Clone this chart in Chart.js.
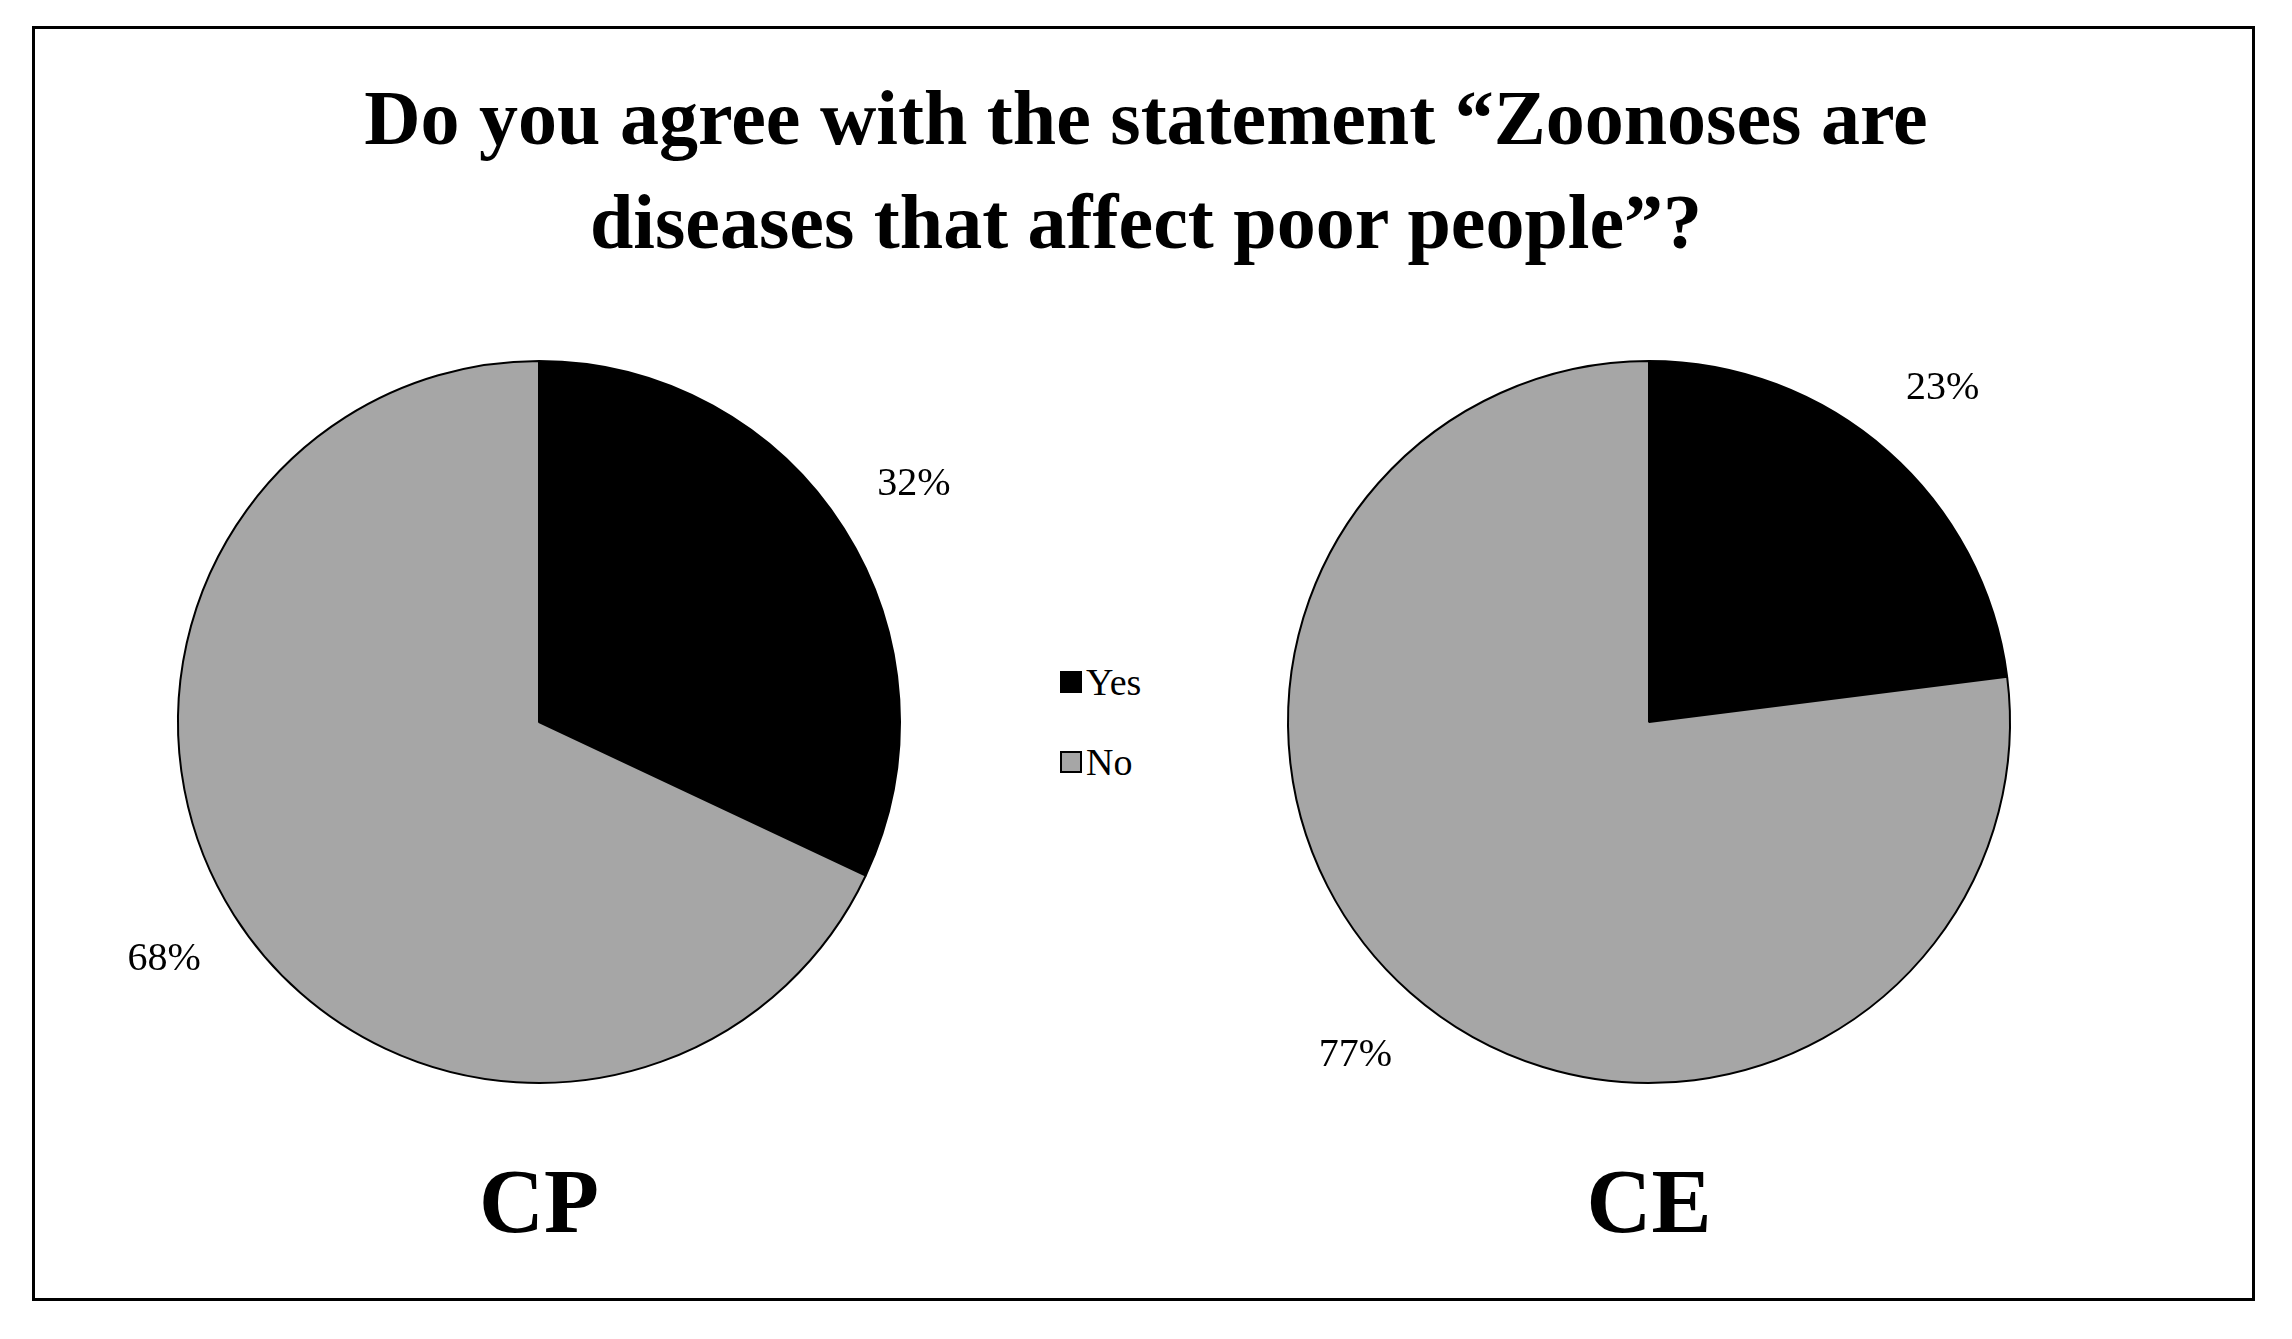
<!DOCTYPE html>
<html>
<head>
<meta charset="utf-8">
<script src="https://cdn.jsdelivr.net/npm/chart.js@4"></script>
<style>
  body { margin: 0; background: #fff; font-family: "Liberation Serif", serif; }
  #frame { position: absolute; left: 32px; top: 26px; width: 2217px; height: 1269px; border: 3px solid #000; }
  .title { position: absolute; left: 0; width: 2292px; text-align: center; font-weight: bold; font-size: 78px; line-height: 104px; top: 66px; }
  .group { position: absolute; font-weight: bold; font-size: 90px; top: 1150px; width: 400px; text-align: center; }
  canvas { position: absolute; }
  .leg { position: absolute; font-size: 38px; display: flex; align-items: center; }
  .leg span { display: inline-block; width: 22px; height: 22px; border: 2px solid #000; margin-right: 4px; box-sizing: border-box; }
</style>
</head>
<body>
<div id="frame"></div>
<div class="title">Do you agree with the statement “Zoonoses are<br>diseases that affect poor people”?</div>
<canvas id="cp" width="1000" height="1000" style="left:39px;top:222px"></canvas>
<canvas id="ce" width="1000" height="1000" style="left:1149px;top:222px"></canvas>
<div class="leg" style="left:1060px;top:660px"><span style="background:#000"></span>Yes</div>
<div class="leg" style="left:1060px;top:740px"><span style="background:#a6a6a6"></span>No</div>
<div class="group" style="left:339px">CP</div>
<div class="group" style="left:1449px">CE</div>
<script>
const categories = ['Yes', 'No'];
const cpValues = [32, 68];
const ceValues = [23, 77];
const colors = ['#000000', '#a6a6a6'];

const outsideLabels = {
    id: 'outsideLabels',
    afterDatasetsDraw(chart) {
        const ctx = chart.ctx;
        const meta = chart.getDatasetMeta(0);
        ctx.save();
        ctx.font = '40px "Liberation Serif"';
        ctx.fillStyle = '#000';
        ctx.textAlign = 'center';
        ctx.textBaseline = 'middle';
        meta.data.forEach((arc, i) => {
            const mid = (arc.startAngle + arc.endAngle) / 2;
            const r = arc.outerRadius * 1.23;
            ctx.fillText(chart.data.datasets[0].data[i] + '%', arc.x + Math.cos(mid) * r, arc.y + Math.sin(mid) * r);
        });
        ctx.restore();
    }
};

function makePie(id, values) {
    new Chart(document.getElementById(id).getContext('2d'), {
        type: 'pie',
        data: {
            labels: categories,
            datasets: [{ data: values, backgroundColor: colors, borderColor: '#000', borderWidth: 2 }]
        },
        options: {
            responsive: false,
            animation: false,
            layout: { padding: 138 },
            plugins: { legend: { display: false }, tooltip: { enabled: false } }
        },
        plugins: [outsideLabels]
    });
}

makePie('cp', cpValues);
makePie('ce', ceValues);
</script>
</body>
</html>
